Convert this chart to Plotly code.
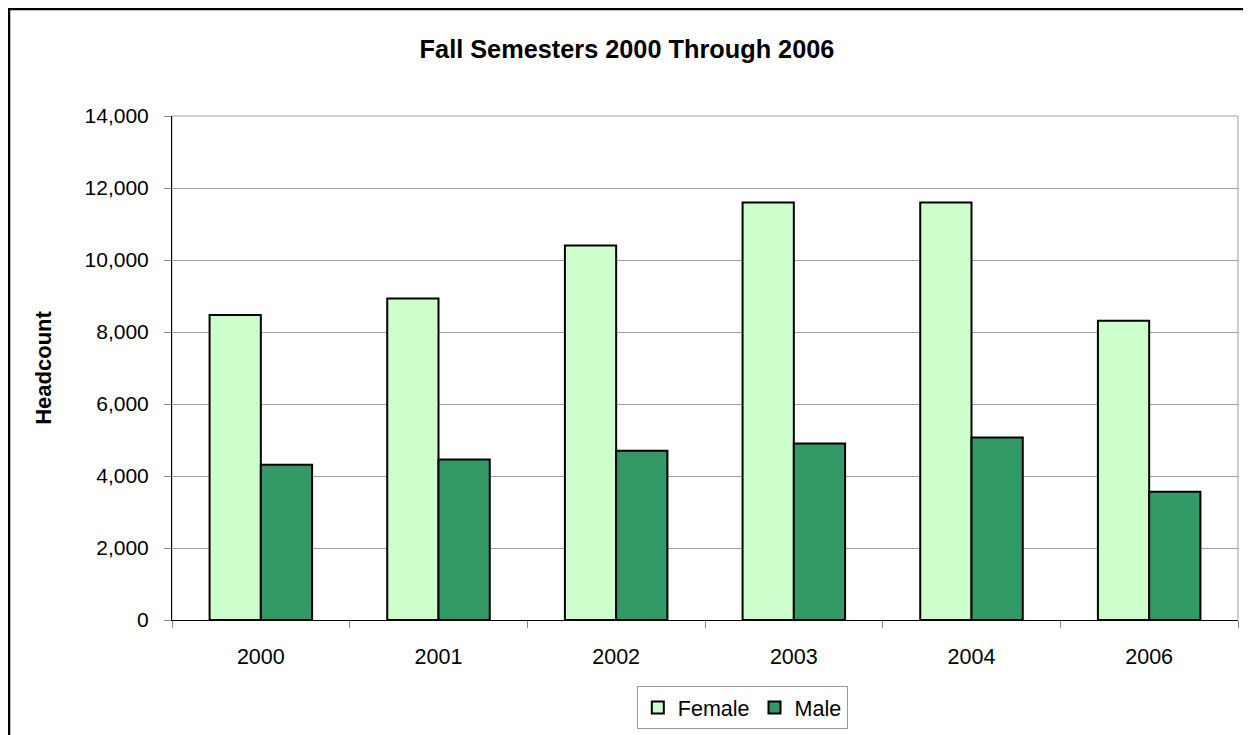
import plotly.graph_objects as go

years = ['2000', '2001', '2002', '2003', '2004', '2006']
female = [8470, 8930, 10400, 11600, 11600, 8310]
male = [4310, 4460, 4700, 4900, 5070, 3560]
y_ticks = [0, 2000, 4000, 6000, 8000, 10000, 12000, 14000]

font_name = 'Liberation Sans, Arial, sans-serif'

fig = go.Figure()
fig.add_trace(go.Bar(x=years, y=female, name='Female',
                     marker=dict(color='#CCFFCC', line=dict(color='black', width=2))))
fig.add_trace(go.Bar(x=years, y=male, name='Male',
                     marker=dict(color='#339966', line=dict(color='black', width=2))))

# page has an 8px body margin, so the figure is a bit smaller than the window
fig.update_layout(
    width=1243, height=727,
    margin=dict(l=164, r=13, t=108, b=115, autoexpand=False),
    paper_bgcolor='white', plot_bgcolor='white',
    font=dict(family=font_name, size=21, color='black'),
    barmode='group', bargap=0.423, bargroupgap=0,
    title=dict(text='<b>Fall Semesters 2000 Through 2006</b>',
               font=dict(size=25.3), xref='container', x=0.498, xanchor='center',
               yref='container', y=1 - 41 / 727, yanchor='middle'),
    showlegend=True,
    legend=dict(orientation='h', x=0.535, xanchor='center', y=-0.131, yanchor='top',
                bordercolor='#999999', borderwidth=1, font=dict(size=21.5),
                itemwidth=30, traceorder='normal'),
    xaxis=dict(type='category', showgrid=False, showline=True, linecolor='black',
               linewidth=1, ticks='outside', tickson='boundaries', ticklen=7,
               tickcolor='#888888', tickfont=dict(size=21.5), ticklabelstandoff=17,
               automargin=False),
    yaxis=dict(range=[0, 14000], tickvals=y_ticks, tickformat=',d',
               showgrid=True, gridcolor='#a0a0a0', gridwidth=1,
               showline=True, linecolor='black', linewidth=1,
               ticks='outside', ticklen=7, tickcolor='#888888',
               ticklabelstandoff=11, tickfont=dict(size=21), automargin=False,
               title=dict(text='<b>Headcount</b>', font=dict(size=22), standoff=26)),
)

# grey border of the plot area (top and right)
fig.add_shape(type='rect', xref='paper', yref='paper', x0=0, x1=1, y0=0, y1=1,
              line=dict(color='#a0a0a0', width=1), layer='below')
# outer chart frame
fig.add_shape(type='rect', xref='paper', yref='paper',
              x0=-0.1529, x1=1.03, y0=-0.26, y1=1.2123,
              line=dict(color='black', width=2.5))

fig.write_html('out.html')
